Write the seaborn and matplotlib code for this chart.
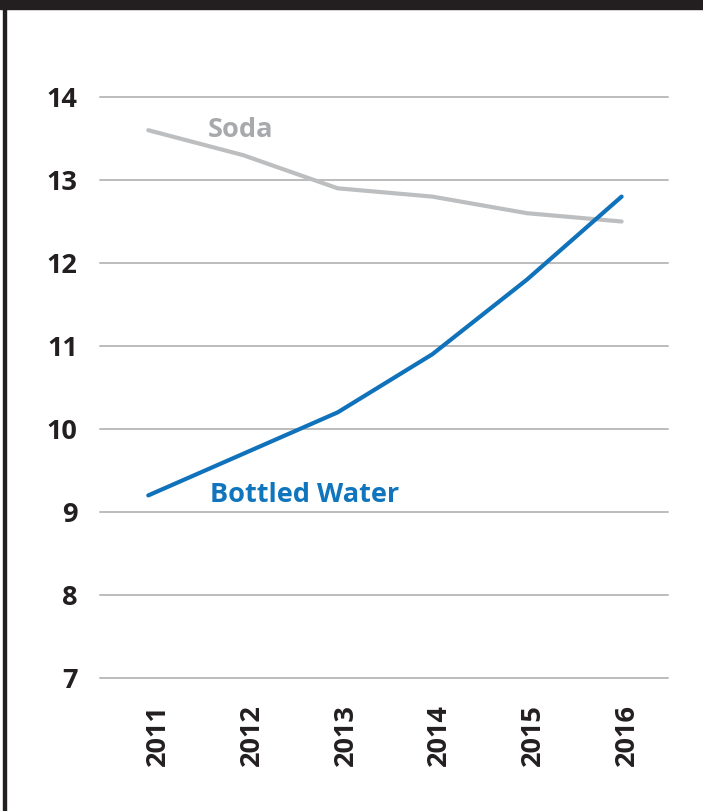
import matplotlib
matplotlib.use("Agg")
import matplotlib.pyplot as plt
import matplotlib.transforms as mtransforms
import seaborn as sns
import pandas as pd
from matplotlib.patches import Rectangle

# Data
years = [2011, 2012, 2013, 2014, 2015, 2016]
soda = [13.6, 13.3, 12.9, 12.8, 12.6, 12.5]
bottled_water = [9.2, 9.7, 10.2, 10.9, 11.8, 12.8]
y_ticks = [7, 8, 9, 10, 11, 12, 13, 14]

sns.set_style("white")
plt.rcParams['font.family'] = ['Open Sans', 'DejaVu Sans']

df = pd.DataFrame({"year": years * 2,
                   "value": soda + bottled_water,
                   "series": ["Soda"] * 6 + ["Bottled Water"] * 6})

fig = plt.figure(figsize=(7.03, 8.11), dpi=100)
ax = fig.add_axes([100 / 703, 1 - 678 / 811, 568 / 703, 581 / 811])

# Gridlines behind
for t in y_ticks:
    ax.axhline(t, color="#bcbcbc", lw=1.4, zorder=0, clip_on=False)

sns.lineplot(data=df, x="year", y="value", hue="series",
             palette={"Soda": "#bcbec0", "Bottled Water": "#0f72ba"},
             linewidth=3, legend=False, ax=ax, zorder=3)

ax.set_xlim(2010.49, 2016.49)
ax.set_ylim(7, 14)
ax.set_xticks(years)
ax.set_xticklabels([str(y) for y in years], rotation=90, fontsize=19.5,
                   fontweight="bold", color="#231f20")
ax.set_yticks(y_ticks)
ax.set_yticklabels([str(t) for t in y_ticks], fontsize=19.5,
                   fontweight="bold", color="#231f20")
ax.tick_params(axis="y", length=0, pad=16)
ax.tick_params(axis="x", length=0, pad=19)
ax.set_xlabel("")
ax.set_ylabel("")
for s in ax.spines.values():
    s.set_visible(False)

# year labels sit a little right of the points in the original
for i, lab in enumerate(ax.get_xticklabels()):
    dx = (10 - i) / 100
    lab.set_transform(lab.get_transform() +
                      mtransforms.ScaledTranslation(dx, 0, fig.dpi_scale_trans))

# Direct labels
ax.text(2011.63, 13.6, "Soda", color="#a7a9ac", fontsize=19.5,
        fontweight="bold", va="center", ha="left")
ax.text(2011.65, 9.2, "Bottled Water", color="#1075bc", fontsize=19.5,
        fontweight="bold", va="center", ha="left")

# Frame: dark top band and left border
fig.patches.append(Rectangle((0, 1 - 9 / 811), 1, 9 / 811, transform=fig.transFigure,
                             color="#231f20", zorder=10))
fig.patches.append(Rectangle((3 / 703, 0), 3 / 703, 1, transform=fig.transFigure,
                             color="#231f20", zorder=10))

plt.savefig("out.png", dpi=100)
